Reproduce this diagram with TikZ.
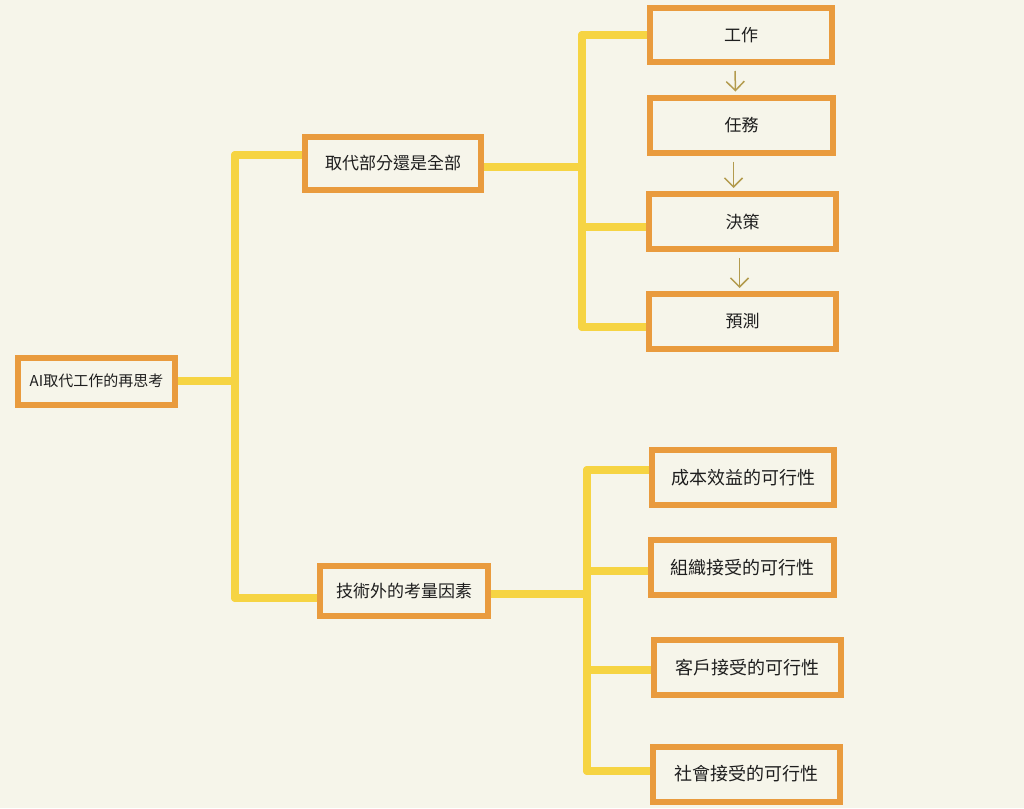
\documentclass[tikz,border=0pt]{standalone}
\usepackage{fontspec}
\setmainfont{Noto Sans CJK TC}
\usepackage{xcolor}
\usetikzlibrary{arrows.meta, positioning}

\definecolor{paper}{HTML}{F6F5EA}
\definecolor{boxline}{HTML}{E99B3E}
\definecolor{branchline}{HTML}{F6D443}
\definecolor{flowline}{HTML}{B39B4E}
\definecolor{ink}{HTML}{1E1E1E}

\begin{document}
\begin{tikzpicture}[x=1pt, y=-1pt]
	% Styles
	\tikzstyle{topic} = [draw=boxline, line width=6pt, fill=paper, rectangle, inner sep=0pt, align=center, text=ink]
	\tikzstyle{leaf} = [topic, minimum width=184pt, minimum height=55pt, font=\fontsize{18pt}{21pt}\selectfont]
	\tikzstyle{stepbox} = [topic, minimum width=183pt, minimum height=55pt, font=\fontsize{17pt}{20pt}\selectfont]
	\tikzstyle{branch} = [branchline, line width=8pt, line cap=round]
	\tikzstyle{flow} = [flowline, line width=1.5pt, -{Straight Barb[length=9pt, width=18pt]}]

	% Background
	\fill [paper] (0,0) rectangle (1024,808);
	\useasboundingbox (0,0) rectangle (1024,808);

	% Junctions
	\coordinate (rootTop) at (235,155);
	\coordinate (rootBot) at (235,598);
	\coordinate (partTop) at (582,35);
	\coordinate (partBot) at (582,327);
	\coordinate (extraTop) at (587,470);
	\coordinate (extraBot) at (587,771);

	% Connections (drawn under the boxes)
	\draw [branch] (96,381) -- (96,381 -| rootTop);
	\draw [branch] (rootTop) -- (rootBot);
	\draw [branch] (rootTop) -- (393,155);
	\draw [branch] (rootBot) -- (404,598);
	\draw [branch] (393,167) -- (393,167 -| partTop);
	\draw [branch] (partTop) -- (partBot);
	\draw [branch] (partTop) -- (741,35);
	\draw [branch] (582,227) -- (742,227);
	\draw [branch] (partBot) -- (742,327);
	\draw [branch] (404,594) -- (404,594 -| extraTop);
	\draw [branch] (extraTop) -- (extraBot);
	\draw [branch] (extraTop) -- (743,470);
	\draw [branch] (587,571) -- (742,571);
	\draw [branch] (587,670) -- (747,670);
	\draw [branch] (extraBot) -- (746,771);

	% Nodes
	\node (root) [topic, minimum width=157pt, minimum height=47pt, font=\fontsize{15pt}{18pt}\selectfont] at (96.5,381) {AI取代工作的再思考};
	\node (part) [topic, minimum width=176pt, minimum height=53pt, font=\fontsize{17pt}{20pt}\selectfont] at (393,163.5) {取代部分還是全部};
	\node (extra) [topic, minimum width=168pt, minimum height=50pt, font=\fontsize{17pt}{20pt}\selectfont] at (404,591) {技術外的考量因素};

	\node (job) [stepbox, minimum width=182pt, minimum height=54pt] at (741,35) {工作};
	\node (task) [stepbox] at (741.5,125) {任務};
	\node (decide) [stepbox, minimum width=187pt] at (742.5,221.5) {決策};
	\node (predict) [stepbox, minimum width=187pt] at (742.5,321.5) {預測};

	\node (cost) [leaf, minimum width=182pt] at (743,477.5) {成本效益的可行性};
	\node (org) [leaf, minimum width=183pt] at (742.5,567.5) {組織接受的可行性};
	\node (client) [leaf, minimum width=187pt] at (747.5,667.5) {客戶接受的可行性};
	\node (society) [leaf, minimum width=187pt] at (746.5,774) {社會接受的可行性};

	% Flow arrows
	\draw [flow] ([xshift=-6pt, yshift=-6pt]job.south) -- ([xshift=-6pt, yshift=3pt]task.north);
	\draw [flow] ([xshift=-8pt, yshift=-6pt]task.south) -- ([xshift=-9pt, yshift=3pt]decide.north);
	\draw [flow] ([xshift=-3pt, yshift=-6pt]decide.south) -- ([xshift=-3pt, yshift=3pt]predict.north);

\end{tikzpicture}
\end{document}
